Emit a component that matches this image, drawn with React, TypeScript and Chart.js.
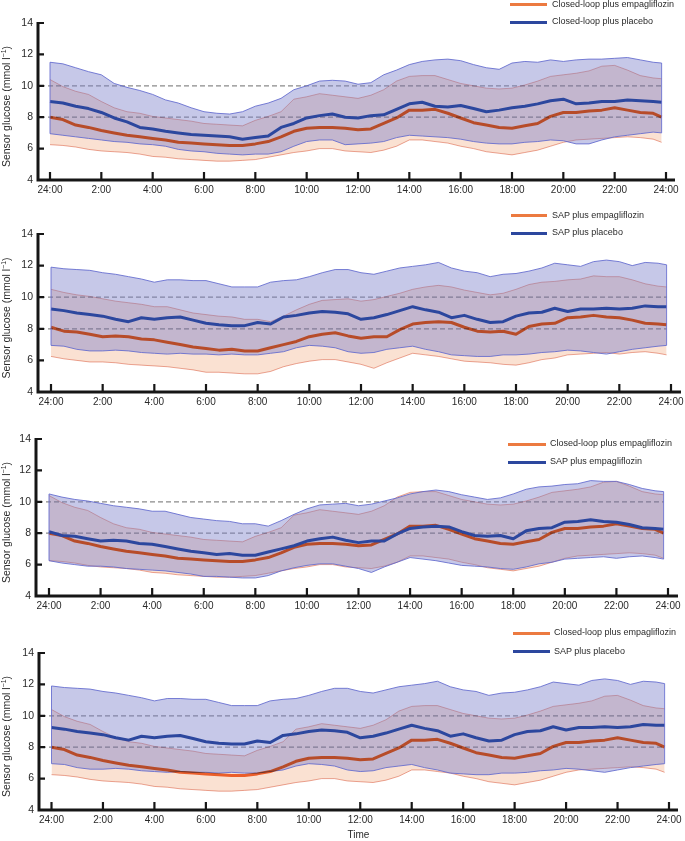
import React, { useEffect, useRef } from 'react';
import { Chart, registerables } from 'chart.js';

// Blend plugin registered before the built-in plugins so that it runs before the filler
const blendPlugin: any = {
  id: 'bandBlend',
  beforeDatasetDraw(chart: any, args: any) {
    const ds = chart.data.datasets[args.index];
    if (ds && ds.blend) chart.ctx.globalCompositeOperation = ds.blend;
  },
  afterDatasetDraw(chart: any) {
    chart.ctx.globalCompositeOperation = 'source-over';
  },
};
Chart.register(blendPlugin);
Chart.register(...registerables);

// ---------------- data ----------------
const HOURS = [0, 0.5, 1, 1.5, 2, 2.5, 3, 3.5, 4, 4.5, 5, 5.5, 6, 6.5, 7, 7.5, 8, 8.5, 9, 9.5, 10, 10.5, 11, 11.5, 12, 12.5, 13, 13.5, 14, 14.5, 15, 15.5, 16, 16.5, 17, 17.5, 18, 18.5, 19, 19.5, 20, 20.5, 21, 21.5, 22, 22.5, 23, 23.5, 23.83];

const X_TICKS = [0, 2, 4, 6, 8, 10, 12, 14, 16, 18, 20, 22, 24];
const REF_LINES = [8, 10];

// Closed-loop plus empagliflozin
const CLE_MED = [8.0, 7.85, 7.5, 7.35, 7.15, 7.0, 6.85, 6.75, 6.65, 6.55, 6.4, 6.35, 6.3, 6.25, 6.2, 6.2, 6.3, 6.45, 6.75, 7.1, 7.3, 7.35, 7.35, 7.3, 7.2, 7.25, 7.6, 7.95, 8.45, 8.45, 8.5, 8.25, 7.95, 7.65, 7.5, 7.35, 7.3, 7.45, 7.6, 8.05, 8.3, 8.3, 8.4, 8.45, 8.6, 8.45, 8.3, 8.25, 8.0];
const CLE_Q3 = [10.4, 9.95, 9.65, 9.45, 9.0, 8.6, 8.35, 8.25, 8.05, 7.95, 7.85, 7.75, 7.6, 7.55, 7.5, 7.45, 7.8, 8.05, 8.35, 9.15, 9.3, 9.5, 9.4, 9.3, 9.2, 9.4, 9.75, 10.3, 10.6, 10.65, 10.65, 10.4, 10.15, 10.0, 9.85, 9.8, 9.85, 10.05, 10.3, 10.6, 10.7, 10.8, 10.95, 11.25, 11.3, 11.0, 10.65, 10.5, 10.45];
const CLE_Q1 = [6.25, 6.2, 6.1, 5.95, 5.85, 5.8, 5.75, 5.65, 5.5, 5.45, 5.35, 5.3, 5.25, 5.2, 5.2, 5.25, 5.3, 5.45, 5.6, 5.75, 5.85, 6.0, 6.0, 5.85, 5.8, 5.75, 5.9, 6.15, 6.55, 6.55, 6.45, 6.35, 6.15, 6.0, 5.8, 5.7, 5.6, 5.75, 5.9, 6.15, 6.4, 6.55, 6.6, 6.65, 6.7, 6.75, 6.7, 6.6, 6.4];

// Closed-loop plus placebo
const CLP_MED = [9.0, 8.9, 8.7, 8.55, 8.3, 7.95, 7.7, 7.35, 7.25, 7.1, 7.0, 6.9, 6.85, 6.8, 6.75, 6.6, 6.7, 6.8, 7.35, 7.6, 7.95, 8.1, 8.2, 8.0, 7.95, 8.1, 8.15, 8.5, 8.85, 8.95, 8.7, 8.65, 8.75, 8.55, 8.35, 8.45, 8.6, 8.7, 8.85, 9.05, 9.15, 8.85, 8.9, 9.0, 9.0, 9.1, 9.05, 9.0, 8.95];
const CLP_Q3 = [11.5, 11.4, 11.15, 10.9, 10.7, 10.15, 9.9, 9.7, 9.45, 9.1, 8.9, 8.6, 8.35, 8.25, 8.2, 8.35, 8.7, 8.9, 9.2, 9.75, 10.0, 10.3, 10.35, 10.3, 10.1, 10.2, 10.7, 11.0, 11.35, 11.55, 11.65, 11.7, 11.6, 11.35, 11.15, 11.05, 11.45, 11.55, 11.5, 11.65, 11.55, 11.65, 11.7, 11.7, 11.75, 11.8, 11.65, 11.5, 11.45];
const CLP_Q1 = [6.95, 6.85, 6.75, 6.65, 6.55, 6.45, 6.4, 6.3, 6.25, 6.15, 5.95, 5.85, 5.8, 5.7, 5.65, 5.6, 5.65, 5.65, 5.8, 6.15, 6.45, 6.55, 6.55, 6.25, 6.3, 6.35, 6.45, 6.7, 6.85, 6.8, 6.75, 6.7, 6.6, 6.45, 6.35, 6.3, 6.3, 6.4, 6.45, 6.55, 6.5, 6.3, 6.3, 6.55, 6.75, 6.85, 6.95, 7.05, 7.0];

// SAP plus empagliflozin
const SAPE_MED = [8.1, 7.85, 7.8, 7.65, 7.5, 7.55, 7.5, 7.35, 7.3, 7.15, 7.0, 6.85, 6.75, 6.65, 6.7, 6.6, 6.6, 6.8, 7.0, 7.2, 7.5, 7.65, 7.75, 7.55, 7.4, 7.5, 7.5, 7.95, 8.3, 8.4, 8.45, 8.4, 8.1, 7.85, 7.8, 7.85, 7.65, 8.15, 8.3, 8.35, 8.7, 8.75, 8.85, 8.75, 8.7, 8.55, 8.35, 8.3, 8.25];
const SAPE_Q3 = [10.5, 10.3, 10.15, 10.05, 9.9, 9.75, 9.65, 9.55, 9.4, 9.4, 9.2, 9.0, 8.9, 8.8, 8.75, 8.6, 8.6, 8.45, 8.8, 9.2, 9.55, 9.8, 9.85, 9.9, 9.75, 9.85, 10.05, 10.25, 10.5, 10.65, 10.75, 10.65, 10.45, 10.3, 10.15, 10.25, 10.5, 10.8, 10.95, 11.0, 11.1, 11.15, 11.35, 11.3, 11.3, 11.1, 10.85, 10.7, 10.65];
const SAPE_Q1 = [6.25, 6.1, 6.0, 5.9, 5.9, 5.85, 5.75, 5.7, 5.65, 5.6, 5.5, 5.4, 5.25, 5.25, 5.2, 5.15, 5.15, 5.3, 5.6, 5.8, 5.95, 6.05, 6.05, 5.9, 5.75, 5.5, 5.85, 6.15, 6.45, 6.35, 6.25, 6.1, 5.95, 5.9, 5.85, 5.75, 5.7, 5.85, 6.05, 6.15, 6.35, 6.4, 6.45, 6.5, 6.4, 6.5, 6.55, 6.45, 6.35];

// SAP plus placebo
const SAPP_MED = [9.25, 9.15, 9.0, 8.9, 8.8, 8.6, 8.45, 8.7, 8.6, 8.7, 8.75, 8.55, 8.35, 8.25, 8.2, 8.2, 8.4, 8.3, 8.75, 8.85, 9.0, 9.1, 9.05, 8.95, 8.6, 8.7, 8.9, 9.15, 9.4, 9.2, 9.05, 8.7, 8.85, 8.6, 8.4, 8.45, 8.8, 9.0, 9.05, 9.3, 9.1, 9.25, 9.25, 9.3, 9.25, 9.3, 9.45, 9.4, 9.4];
const SAPP_Q3 = [11.9, 11.8, 11.75, 11.7, 11.55, 11.45, 11.3, 11.15, 10.95, 11.1, 11.1, 11.05, 11.05, 10.85, 10.65, 10.65, 10.65, 10.95, 11.05, 11.1, 11.3, 11.55, 11.75, 11.75, 11.55, 11.45, 11.65, 11.85, 11.95, 12.05, 12.2, 11.85, 11.65, 11.55, 11.3, 11.45, 11.5, 11.65, 11.85, 12.15, 12.05, 11.95, 12.25, 12.35, 12.25, 12.0, 12.2, 12.15, 12.05];
const SAPP_Q1 = [6.95, 6.9, 6.7, 6.6, 6.6, 6.65, 6.6, 6.5, 6.45, 6.4, 6.45, 6.4, 6.4, 6.35, 6.4, 6.35, 6.35, 6.45, 6.55, 6.8, 6.95, 6.9, 6.8, 6.55, 6.45, 6.5, 6.7, 6.8, 6.9, 6.7, 6.55, 6.35, 6.3, 6.25, 6.25, 6.35, 6.35, 6.4, 6.5, 6.55, 6.65, 6.6, 6.5, 6.4, 6.55, 6.7, 6.8, 6.9, 6.95];

const SERIES: Record<string, { med: number[]; q1: number[]; q3: number[]; label: string }> = {
  CLE: { med: CLE_MED, q1: CLE_Q1, q3: CLE_Q3, label: 'Closed-loop plus empagliflozin' },
  CLP: { med: CLP_MED, q1: CLP_Q1, q3: CLP_Q3, label: 'Closed-loop plus placebo' },
  SAPE: { med: SAPE_MED, q1: SAPE_Q1, q3: SAPE_Q3, label: 'SAP plus empagliflozin' },
  SAPP: { med: SAPP_MED, q1: SAPP_Q1, q3: SAPP_Q3, label: 'SAP plus placebo' },
};

// which series go in which panel (orange, blue)
const PANEL_ORANGE = ['CLE', 'SAPE', 'CLE', 'CLE'];
const PANEL_BLUE = ['CLP', 'SAPP', 'SAPE', 'SAPP'];

// ---------------- layout & style ----------------
const W = 685;
const LAYOUT = [
  { top: 0, height: 205, L: 38, x0: 50, x24: 666, R: 675, cTop: 23, cBottom: 180, legX: 510, legW: 37, legTextX: 552, legY: [4.5, 22], time: false },
  { top: 205, height: 210, L: 38, x0: 51, x24: 671, R: 681, cTop: 234, cBottom: 392, legX: 511, legW: 36, legTextX: 552, legY: [215.5, 233.3], time: false },
  { top: 415, height: 205, L: 36, x0: 49, x24: 668, R: 678, cTop: 439, cBottom: 596, legX: 508, legW: 38, legTextX: 550, legY: [444, 462.3], time: false },
  { top: 620, height: 221, L: 39, x0: 51.5, x24: 669, R: 678, cTop: 653, cBottom: 810, legX: 513, legW: 37, legTextX: 554, legY: [633.3, 651.7], time: true },
];

const FONT = '"Liberation Sans", Arial, Helvetica, sans-serif';
const TEXT = '#2a2a2a';
const BLUE_LINE = '#2c479e';
const ORANGE_LINE = '#f06a32';
const LEG_ORANGE = '#ec7a40';
const BLUE_FILL = 'rgba(118,124,200,0.42)';
const BLUE_EDGE = 'rgba(96,104,206,0.85)';
const ORANGE_FILL = 'rgb(250,225,210)';
const ORANGE_EDGE = 'rgb(236,168,152)';

function Panel({ idx }: { idx: number }) {
  const ref = useRef<HTMLCanvasElement | null>(null);
  const cfg = LAYOUT[idx];
  useEffect(() => {
    const canvas = ref.current;
    if (!canvas) return;
    const o = SERIES[PANEL_ORANGE[idx]];
    const b = SERIES[PANEL_BLUE[idx]];
    const pts = (arr: number[]) => HOURS.map((h, i) => ({ x: h, y: arr[i] }));
    const pph = (cfg.x24 - cfg.x0) / 24;
    const xmin = -(cfg.x0 - cfg.L) / pph;
    const xmax = 24 + (cfg.R - cfg.x24) / pph;
    const chartTop = cfg.cTop - cfg.top;
    const chartBottom = cfg.cBottom - cfg.top;

    const decor: any = {
      id: 'decor',
      beforeDatasetsDraw(chart: any) {
        const { ctx, chartArea, scales } = chart;
        const xs = scales.x, ys = scales.y;
        ctx.save();
        ctx.strokeStyle = '#8a8a8a';
        ctx.lineWidth = 1.3;
        ctx.setLineDash([5, 3]);
        const xEnd = xs.getPixelForValue(HOURS[HOURS.length - 1]);
        REF_LINES.forEach((v) => {
          const py = ys.getPixelForValue(v);
          ctx.beginPath();
          ctx.moveTo(chartArea.left + 2, py);
          ctx.lineTo(xEnd, py);
          ctx.stroke();
        });
        ctx.restore();
      },
      afterDatasetsDraw(chart: any) {
        const { ctx, scales } = chart;
        const xs = scales.x, ys = scales.y;
        ctx.save();
        ctx.strokeStyle = BLUE_EDGE;
        ctx.lineWidth = 1;
        [0, HOURS.length - 1].forEach((i) => {
          const px = xs.getPixelForValue(HOURS[i]);
          ctx.beginPath();
          ctx.moveTo(px, ys.getPixelForValue(b.q1[i]));
          ctx.lineTo(px, ys.getPixelForValue(b.q3[i]));
          ctx.stroke();
        });
        ctx.restore();
      },
      afterDraw(chart: any) {
        const { ctx, chartArea, scales } = chart;
        const xs = scales.x, ys = scales.y;
        const { left, right, top, bottom } = chartArea;
        ctx.save();
        ctx.strokeStyle = '#161616';
        ctx.lineCap = 'butt';
        ctx.lineWidth = 3;
        ctx.beginPath();
        ctx.moveTo(left, top - 1);
        ctx.lineTo(left, bottom + 1.5);
        ctx.moveTo(left - 1.5, bottom);
        ctx.lineTo(right, bottom);
        ctx.stroke();
        ctx.lineWidth = 2.2;
        ctx.beginPath();
        xs.ticks.forEach((t: any) => {
          const px = xs.getPixelForValue(t.value);
          ctx.moveTo(px, bottom);
          ctx.lineTo(px, bottom - 8);
        });
        ys.ticks.forEach((t: any) => {
          const py = ys.getPixelForValue(t.value);
          ctx.moveTo(left, py);
          ctx.lineTo(left + 6, py);
        });
        ctx.stroke();

        // y-axis title with superscript
        const base = `10.5px ${FONT}`;
        const sup = `7px ${FONT}`;
        const t1 = 'Sensor glucose (mmol l';
        const t2 = '\u22121';
        const t3 = ')';
        ctx.fillStyle = TEXT;
        ctx.textBaseline = 'middle';
        ctx.textAlign = 'left';
        ctx.font = base;
        const w1 = ctx.measureText(t1).width;
        const w3 = ctx.measureText(t3).width;
        ctx.font = sup;
        const w2 = ctx.measureText(t2).width;
        const total = w1 + w2 + w3;
        ctx.translate(7.5, (top + bottom) / 2 + 5);
        ctx.rotate(-Math.PI / 2);
        let sx = -total / 2;
        ctx.font = base;
        ctx.fillText(t1, sx, 0);
        sx += w1;
        ctx.font = sup;
        ctx.fillText(t2, sx, -3.5);
        sx += w2;
        ctx.font = base;
        ctx.fillText(t3, sx, 0);
        ctx.restore();
      },
    };

    // draw order: index 5 first ... index 0 last
    const chart = new Chart(canvas, {
      type: 'line',
      data: {
        datasets: [
          { label: b.label, data: pts(b.med), borderColor: BLUE_LINE, borderWidth: 3, fill: false, borderJoinStyle: 'round' },
          { label: o.label, data: pts(o.med), borderColor: ORANGE_LINE, borderWidth: 3, fill: false, borderJoinStyle: 'round', blend: 'multiply' },
          { label: b.label + ' Q1', data: pts(b.q1), borderColor: BLUE_EDGE, borderWidth: 1, fill: false },
          { label: b.label + ' Q3', data: pts(b.q3), borderColor: BLUE_EDGE, borderWidth: 1, fill: '-1', backgroundColor: BLUE_FILL },
          { label: o.label + ' Q1', data: pts(o.q1), borderColor: ORANGE_EDGE, borderWidth: 1, fill: false, blend: 'multiply' },
          { label: o.label + ' Q3', data: pts(o.q3), borderColor: ORANGE_EDGE, borderWidth: 1, fill: '-1', backgroundColor: ORANGE_FILL, blend: 'multiply' },
        ] as any,
      },
      options: {
        responsive: false,
        animation: false,
        events: [],
        layout: { padding: { top: chartTop, right: W - cfg.R, bottom: 0, left: 0 } },
        elements: { point: { radius: 0 }, line: { tension: 0 } },
        plugins: { legend: { display: false }, tooltip: { enabled: false } },
        scales: {
          x: {
            type: 'linear',
            bounds: 'data',
            min: xmin,
            max: xmax,
            grid: { display: false, drawTicks: false },
            border: { display: false },
            afterBuildTicks: (s: any) => {
              s.ticks = X_TICKS.map((v) => ({ value: v }));
            },
            afterFit: (s: any) => {
              s.height = cfg.height - chartBottom;
              s.paddingLeft = 0;
              s.paddingRight = 0;
            },
            ticks: {
              autoSkip: false,
              maxRotation: 0,
              padding: 4,
              color: TEXT,
              font: { family: FONT, size: 10 },
              callback: (v: any) => (Number(v) === 0 ? '24:00' : `${v}:00`),
            },
            title: { display: cfg.time, text: 'Time', color: TEXT, font: { family: FONT, size: 10 }, padding: 0 },
          },
          y: {
            min: 4,
            max: 14,
            grid: { display: false, drawTicks: false },
            border: { display: false },
            afterFit: (s: any) => {
              s.width = cfg.L;
              s.paddingTop = 0;
              s.paddingBottom = 0;
            },
            ticks: { stepSize: 2, padding: 5, color: TEXT, font: { family: FONT, size: 10.5 } },
          },
        },
      } as any,
      plugins: [decor],
    });
    return () => chart.destroy();
  }, [idx]);

  return (
    <canvas
      ref={ref}
      width={W}
      height={cfg.height}
      style={{ position: 'absolute', left: 0, top: cfg.top, width: W, height: cfg.height, display: 'block' }}
    />
  );
}

function Legend({ idx }: { idx: number }) {
  const cfg = LAYOUT[idx];
  const items = [
    { label: SERIES[PANEL_ORANGE[idx]].label, color: LEG_ORANGE },
    { label: SERIES[PANEL_BLUE[idx]].label, color: BLUE_LINE },
  ];
  return (
    <>
      {items.map((it, i) => (
        <React.Fragment key={i}>
          <div style={{ position: 'absolute', left: cfg.legX, top: cfg.legY[i] - 1.5, width: cfg.legW, height: 3, background: it.color }} />
          <div
            style={{
              position: 'absolute',
              left: cfg.legTextX,
              top: cfg.legY[i] - 6,
              height: 12,
              lineHeight: '12px',
              font: `9px ${FONT}`,
              color: TEXT,
              whiteSpace: 'nowrap',
            }}
          >
            {it.label}
          </div>
        </React.Fragment>
      ))}
    </>
  );
}

export default function App() {
  return (
    <div style={{ position: 'absolute', left: 0, top: 0, width: W, height: 841, background: '#fff', overflow: 'hidden' }}>
      {LAYOUT.map((_, i) => (
        <Panel key={'p' + i} idx={i} />
      ))}
      {LAYOUT.map((_, i) => (
        <Legend key={'l' + i} idx={i} />
      ))}
    </div>
  );
}
